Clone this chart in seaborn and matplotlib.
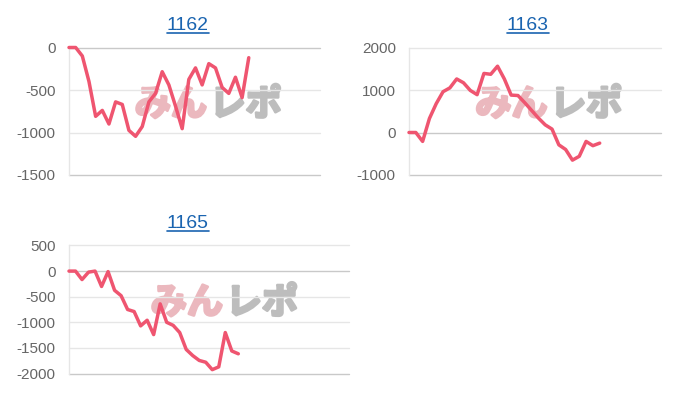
"""
Recreates three small cumulative-result line charts (1162, 1163, 1165)
with a faint watermark behind each line.
"""

import matplotlib
matplotlib.use('Agg')  # Non-interactive backend
import matplotlib.pyplot as plt
import matplotlib.patheffects as pe
from matplotlib.lines import Line2D
import seaborn as sns
import pandas as pd


# ========================
# DATA
# ========================

TITLES = ['1162', '1163', '1165']

VALUES_1162 = [0, 0, -100, -400, -810, -740, -900, -640, -670, -975,
               -1045, -930, -640, -540, -285, -440, -690, -955, -375, -240,
               -440, -190, -240, -470, -540, -350, -590, -120]

VALUES_1163 = [0, 0, -210, 330, 680, 960, 1050, 1260, 1170, 990,
               890, 1390, 1370, 1560, 1260, 880, 870, 700, 520, 340,
               180, 80, -290, -400, -650, -560, -210, -310, -250]

VALUES_1165 = [0, 0, -165, -20, 0, -300, -10, -375, -480, -750,
               -790, -1070, -960, -1240, -640, -1000, -1060, -1200, -1530, -1650,
               -1745, -1780, -1925, -1870, -1200, -1560, -1615]

Y_TICKS_1162 = [-1500, -1000, -500, 0]
Y_TICKS_1163 = [-1000, 0, 1000, 2000]
Y_TICKS_1165 = [-2000, -1500, -1000, -500, 0, 500]

WATERMARK_LEFT = 'みん'
WATERMARK_RIGHT = 'レポ'

# ========================
# STYLE
# ========================

LINE_COLOR = '#EF5570'
GRID_COLOR = '#E6E6E6'
ZERO_COLOR = '#C9C9C9'
TICK_COLOR = '#666666'
TITLE_COLOR = '#1A64B0'
WM_PINK = '#EBB8BE'
WM_GRAY = '#BDBDBD'

sns.set_style('white')
plt.rcParams['font.family'] = ['Liberation Sans', 'Noto Sans CJK JP', 'DejaVu Sans']

W, H = 700, 400
fig = plt.figure(figsize=(W / 100, H / 100), dpi=100)


def px_axes(left, top, right, bottom):
    """Axes placed by pixel box (top-left origin)."""
    return fig.add_axes([left / W, 1 - bottom / H, (right - left) / W, (bottom - top) / H])


panels = [
    # title, values, ticks, axes box, x-span, title centre
    (TITLES[0], VALUES_1162, Y_TICKS_1162, (69, 47.5, 320, 175), 37.7, (188, 25)),
    (TITLES[1], VALUES_1163, Y_TICKS_1163, (409, 47.5, 661, 175), 37.0, (528, 25)),
    (TITLES[2], VALUES_1165, Y_TICKS_1165, (69, 245.5, 349, 373.5), 43.0, (188, 223)),
]

title_texts = []
for title, values, ticks, box, xspan, tpos in panels:
    ax = px_axes(*box)
    ax.set_facecolor('none')

    df = pd.DataFrame({'x': range(len(values)), 'y': values})
    sns.lineplot(data=df, x='x', y='y', ax=ax, color=LINE_COLOR,
                 linewidth=2.5, clip_on=False, zorder=3)

    ax.set_xlim(0, xspan)
    ax.set_ylim(ticks[0], ticks[-1])
    ax.set_yticks(ticks)
    ax.set_yticklabels([str(t) for t in ticks])
    ax.set_xticks([])
    ax.set_xlabel('')
    ax.set_ylabel('')

    # horizontal grid, zero line and bottom border a little darker
    for t in ticks:
        c = ZERO_COLOR if t in (0, ticks[0]) else GRID_COLOR
        ax.axhline(t, color=c, linewidth=1, zorder=1, clip_on=False)

    for side in ['top', 'right', 'bottom']:
        ax.spines[side].set_visible(False)
    ax.spines['left'].set_color(GRID_COLOR)
    ax.spines['left'].set_linewidth(1)
    ax.tick_params(axis='y', length=3.5, width=1, color=GRID_COLOR,
                   labelcolor=TICK_COLOR, labelsize=11, pad=6)

    # watermark behind the line (stroked to look heavy)
    ax.text(0.55, 0.55, WATERMARK_LEFT, transform=ax.transAxes,
            fontsize=26, fontweight='bold', color=WM_PINK, ha='right', va='center',
            family=['Noto Sans CJK JP'], zorder=0,
            path_effects=[pe.withStroke(linewidth=2, foreground=WM_PINK)])
    ax.text(0.56, 0.55, WATERMARK_RIGHT, transform=ax.transAxes,
            fontsize=26, fontweight='bold', color=WM_GRAY, ha='left', va='center',
            family=['Noto Sans CJK JP'], zorder=0,
            path_effects=[pe.withStroke(linewidth=2, foreground=WM_GRAY)])

    t = fig.text(tpos[0] / W, 1 - tpos[1] / H, title, color=TITLE_COLOR,
                 fontsize=14, ha='center', va='center')
    title_texts.append(t)

# underline titles (link style)
fig.canvas.draw()
renderer = fig.canvas.get_renderer()
for t in title_texts:
    bb = t.get_window_extent(renderer)
    y = bb.y0 + 1
    fig.add_artist(Line2D([bb.x0 / W, bb.x1 / W], [y / H, y / H],
                          transform=fig.transFigure, color=TITLE_COLOR, linewidth=1.2))

plt.savefig('out.png', dpi=100)
plt.close()
